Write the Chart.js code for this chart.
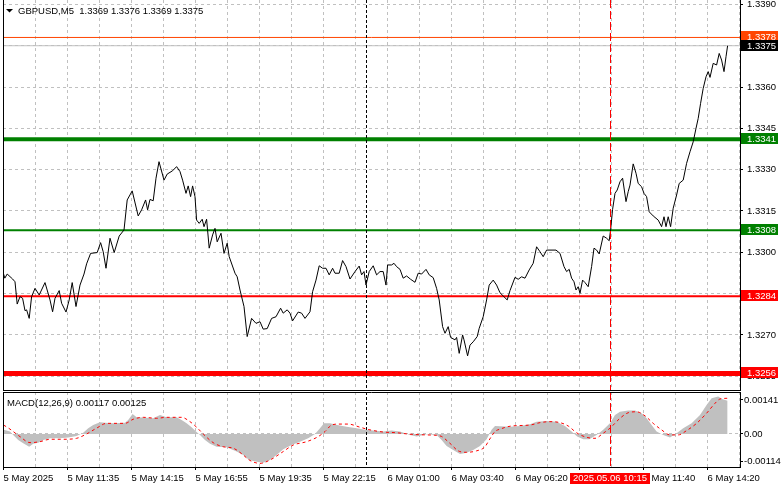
<!DOCTYPE html>
<html>
<head>
<meta charset="utf-8">
<script src="https://cdn.jsdelivr.net/npm/chart.js@4.4.1/dist/chart.umd.min.js"></script>
<style>
    body { margin: 0; background: #fff; }
    #wrap { position: relative; width: 781px; height: 489px; overflow: hidden; background: #fff; }
    canvas { position: absolute; left: 0; }
    #priceChart { top: 0; }
    #macdChart { top: 391px; }
</style>
</head>
<body>
<div id="wrap">
    <canvas id="priceChart" width="781" height="391"></canvas>
    <canvas id="macdChart" width="781" height="98"></canvas>
</div>
<script>
const FONT = "'Liberation Sans', Arial, sans-serif";
const FONT_SIZE = 9.5;

// --- DATOS (x = numero de barra M5 desde 5 May 08:55) ---

const priceX = [0, 0.6, 1.8, 4.5, 5.7, 6.8, 8.2, 9.5, 10.7, 11.5,
    12.8, 14, 15.7, 17.8, 20.7, 23.2, 24.5, 25.7, 27.8, 29,
    31.2, 32.8, 34.3, 36.2, 38.2, 40.2, 41.5, 43.5, 46.8, 48.5,
    49.8, 51.2, 53.2, 55.3, 57.8, 60.2, 61.8, 64.3, 67.3, 69,
    71, 72, 73.2, 74.8, 76.2, 77.7, 80.2, 81.8, 84.5, 86.5,
    88.2, 89.5, 91.2, 92.3, 93.5, 94.5, 95.7, 96.5, 97.8, 99.3,
    100.2, 101.5, 102.8, 104.5, 105.7, 106.8, 108.7, 110.2, 111.8, 112.8,
    115.7, 116.8, 118.2, 120.2, 121.8, 124, 126.2, 128.2, 129.8, 131.8,
    134, 136.2, 138.5, 139.8, 141.8, 143.2, 144.5, 147.3, 149, 150.7,
    153.2, 154.5, 156.2, 157.8, 159.5, 161.2, 162.8, 164.5, 165.7, 167.8,
    169.5, 171.2, 173.2, 175.7, 177.8, 179, 180.2, 181.2, 182.8, 184.8,
    186.5, 188.2, 189.8, 191.2, 192, 194, 195.2, 196.5, 198.2, 199.8,
    201.5, 203.5, 205.7, 207.3, 209, 211.2, 212.8, 214.8, 216.5, 217.8,
    219.5, 220.7, 222.3, 223.5, 225.7, 226.5, 227.8, 229.5, 230.2, 232,
    233.2, 234.8, 236.8, 237.8, 239.8, 241.5, 242.8, 244.8, 246.5, 248.2,
    251.8, 253.2, 255.7, 257.3, 259, 260.7, 262.8, 264.8, 266.5, 268.2,
    269.8, 271.5, 276.2, 278.2, 280.2, 281.5, 282.8, 284, 285.2, 286.2,
    287.3, 288.2, 289.5, 290.7, 292.3, 294, 295.2, 296.5, 297.8, 299.8,
    301.5, 302.8, 303.5, 304.5, 305.7, 306.8, 308.2, 309.5, 311.2, 312.3,
    313.2, 314.8, 316.2, 317.3, 319, 320.2, 321.5, 322.8, 324.8, 327.3,
    329, 330.2, 331.2, 332.3, 333.5, 334.8, 336.5, 337.8, 339.8, 341.5,
    343.2, 344.8, 346.2, 347.3, 348.5, 349.8, 351.2, 352.3, 353.2, 354.8,
    356.5, 357.8, 359, 360.2, 361.2, 362];

const priceY = [1.32921, 1.32906, 1.32921, 1.32903, 1.32893, 1.32812, 1.32839, 1.32833, 1.32788, 1.32791,
    1.32760, 1.32839, 1.32869, 1.32845, 1.32890, 1.32827, 1.32784, 1.32833, 1.32861, 1.32815,
    1.32783, 1.32827, 1.32890, 1.32803, 1.32881, 1.32921, 1.32958, 1.32996, 1.32999, 1.33035,
    1.33002, 1.32942, 1.33051, 1.32999, 1.33059, 1.33081, 1.33190, 1.33223, 1.33132, 1.33154,
    1.33190, 1.33154, 1.33192, 1.33187, 1.33269, 1.33329, 1.33262, 1.33284, 1.33296, 1.33311,
    1.33293, 1.33262, 1.33214, 1.33241, 1.33202, 1.33241, 1.33202, 1.33117, 1.33105, 1.33120,
    1.33093, 1.33120, 1.33015, 1.33063, 1.33087, 1.33038, 1.33069, 1.32996, 1.33033, 1.32984,
    1.32924, 1.32911, 1.32863, 1.32803, 1.32694, 1.32760, 1.32742, 1.32748, 1.32721, 1.32723,
    1.32760, 1.32766, 1.32797, 1.32779, 1.32791, 1.32779, 1.32751, 1.32783, 1.32779, 1.32760,
    1.32784, 1.32857, 1.32899, 1.32951, 1.32942, 1.32942, 1.32918, 1.32942, 1.32924, 1.32924,
    1.32970, 1.32948, 1.32903, 1.32930, 1.32950, 1.32918, 1.32930, 1.32881, 1.32930, 1.32951,
    1.32918, 1.32930, 1.32930, 1.32881, 1.32954, 1.32954, 1.32960, 1.32948, 1.32938, 1.32906,
    1.32914, 1.32902, 1.32891, 1.32924, 1.32921, 1.32938, 1.32918, 1.32908, 1.32869, 1.32827,
    1.32730, 1.32706, 1.32730, 1.32691, 1.32682, 1.32691, 1.32633, 1.32700, 1.32682, 1.32624,
    1.32663, 1.32675, 1.32694, 1.32724, 1.32766, 1.32827, 1.32881, 1.32899, 1.32881, 1.32853,
    1.32827, 1.32861, 1.32909, 1.32902, 1.32911, 1.32906, 1.32936, 1.32960, 1.33020, 1.33002,
    1.32984, 1.33008, 1.33008, 1.32996, 1.32948, 1.32930, 1.32938, 1.32906, 1.32893, 1.32863,
    1.32875, 1.32851, 1.32899, 1.32890, 1.32875, 1.32948, 1.33015, 1.33008, 1.32994, 1.33059,
    1.33051, 1.33042, 1.33081, 1.33156, 1.33214, 1.33226, 1.33256, 1.33269, 1.33184, 1.33220,
    1.33244, 1.33321, 1.33287, 1.33250, 1.33238, 1.33214, 1.33202, 1.33147, 1.33132, 1.33117,
    1.33093, 1.33129, 1.33093, 1.33129, 1.33093, 1.33160, 1.33208, 1.33250, 1.33262, 1.33323,
    1.33365, 1.33401, 1.33450, 1.33486, 1.33541, 1.33595, 1.33637, 1.33656, 1.33635, 1.33686,
    1.33680, 1.33722, 1.33698, 1.33656, 1.33710, 1.33750];

const histX = [0, 3.2, 4.8, 7.3, 9.8, 12.8, 14.8, 17.3, 19.8, 23.2,
    28.2, 32.3, 36.5, 39.8, 42.3, 44.8, 48.2, 50.7, 54.8, 60.7,
    62.3, 64.5, 66.5, 69.8, 74.8, 78.2, 81.5, 86.5, 89, 91.5,
    94, 96.2, 98.2, 100.7, 103.2, 106.5, 111.5, 116.5, 119.8, 122.8,
    126.5, 129.8, 133.2, 136.5, 139.8, 144, 148.2, 152.3, 155.7, 158.2,
    160.2, 163.2, 166.8, 171.5, 176.5, 180.7, 184.8, 189.8, 194, 198.2,
    203.2, 206.5, 211.5, 216.5, 219, 221.5, 224.8, 228.2, 231.5, 234.8,
    238.2, 241.5, 244, 245.7, 253.2, 258.2, 263.2, 266.5, 271.5, 276.5,
    280.7, 284, 286.8, 289.8, 292.8, 296.5, 299.8, 303.2, 305.7, 308.2,
    312.3, 315.7, 319, 321.5, 324, 326.5, 329.8, 333.2, 336.5, 339.8,
    344, 348.2, 351.5, 354, 357.3, 359.5, 362];

const histY = [0.00017, 0.0001, -0.00004, -0.00025, -0.00039, -0.00053, -0.00041, -0.00036, -0.00025, -0.00018,
    -0.00018, -0.00015, -0.00008, 0.00005, 0.00024, 0.00037, 0.00049, 0.00047, 0.00044, 0.00047,
    0.00058, 0.00083, 0.00069, 0.00068, 0.00065, 0.00079, 0.00069, 0.00069, 0.00058, 0.00044,
    0.00028, 0.0001, -0.00004, -0.00025, -0.00041, -0.00053, -0.00055, -0.00073, -0.00087, -0.00108,
    -0.00115, -0.00119, -0.00108, -0.00087, -0.00063, -0.00046, -0.00032, -0.00018, 0, 0.00024,
    0.00044, 0.00044, 0.00037, 0.0003, 0.00024, 0.00017, 0.00014, 0.0001, 0.00014, 0.0001,
    -0.00004, -0.00011, -0.00001, -0.00004, -0.00025, -0.0005, -0.00066, -0.00083, -0.00078, -0.00066,
    -0.0005, -0.00022, 0.00017, 0.00033, 0.0003, 0.00033, 0.0004, 0.00051, 0.00054, 0.00051,
    0.00033, 0.0001, -0.00011, -0.00022, -0.00022, -0.00004, 0.00017, 0.00044, 0.00079, 0.00092,
    0.00097, 0.00097, 0.00086, 0.00065, 0.00037, 0.0001, -0.00004, -0.00015, 0.00003, 0.00024,
    0.00044, 0.00079, 0.0012, 0.00148, 0.00155, 0.00144, 0.00138];

const signalX = [0, 3.2, 8.2, 13.2, 18.2, 23.2, 29.8, 36.5, 41.5, 46.5,
    51.5, 60.7, 64.8, 69.8, 76.5, 81.5, 89, 93.2, 96.5, 99.8,
    104.8, 109.8, 114.8, 119.8, 122.8, 128.2, 133.2, 139.8, 144.8, 151.5,
    157.3, 160.7, 164, 167.3, 172.3, 178.2, 183.2, 189.8, 196.5, 203.2,
    211.5, 218.2, 223.2, 227.3, 231.5, 236.5, 240.7, 242.8, 245.7, 248.2,
    254, 263.2, 268.2, 273.2, 278.2, 282.3, 286.5, 291.5, 295.7, 299.8,
    303.2, 308.2, 312.3, 316.5, 320.7, 324.8, 329, 333.2, 337.3, 341.5,
    346.5, 351.5, 355.7, 358.2, 362];

const signalY = [0.00037, 0.0002, -0.00011, -0.00036, -0.00032, -0.00022, -0.00022, -0.00018, 0, 0.00024,
    0.00044, 0.00044, 0.00061, 0.00069, 0.00065, 0.00069, 0.00069, 0.00051, 0.00028, 0,
    -0.00036, -0.00053, -0.00059, -0.00087, -0.00108, -0.00122, -0.00108, -0.00073, -0.00046, -0.00032,
    -0.00011, 0.0001, 0.00037, 0.00041, 0.00041, 0.00028, 0.00017, 0.00008, 0.00005, -0.00001,
    -0.00004, -0.00008, -0.00039, -0.0007, -0.00076, -0.0007, -0.00053, -0.00025, 0.0001, 0.0002,
    0.00033, 0.00037, 0.00047, 0.00051, 0.00047, 0.00033, 0.00005, -0.00014, -0.00018, 0.00003,
    0.00024, 0.00065, 0.00088, 0.00092, 0.00075, 0.00044, 0.00017, -0.00004, -0.00004, 0.00014,
    0.00044, 0.00086, 0.00127, 0.00145, 0.00148];

const priceTicks = [1.3390, 1.3375, 1.3360, 1.3345, 1.3330, 1.3315, 1.3300, 1.3285, 1.3270, 1.3255];
const macdTicks = [0.00141, 0, -0.00114];
const macdTickLabels = ['0.00141', '0.00', '-0.00114'];
const gridBars = [0, 16, 32, 48, 64, 80, 96, 112, 128, 144, 160, 176, 192, 208, 224, 240, 256, 272, 288, 304, 320, 336, 352, 368];
const timeLabels = ['5 May 2025', '5 May 11:35', '5 May 14:15', '5 May 16:55', '5 May 19:35', '5 May 22:15',
    '6 May 01:00', '6 May 03:40', '6 May 06:20', '6 May 09:00', '6 May 11:40', '6 May 14:20'];

const levelValues = [1.3341, 1.3308, 1.3284, 1.3256];
const askPrice = 1.3378;
const bidPrice = 1.3375;
const dayBreakBar = 181;
const cursorBar = 303;
const cursorLabel = '2025.05.06 10:15';
const titleText = 'GBPUSD,M5  1.3369 1.3376 1.3369 1.3375';
const macdText = 'MACD(12,26,9) 0.00117 0.00125';

// --- ESTILOS ---
const X_MIN = -0.3, X_MAX = 368.2;
const GRID = '#c0c0c0';
const levelStyle = [
    { color: '#008000', width: 4 },
    { color: '#008000', width: 2 },
    { color: '#ff0000', width: 2 },
    { color: '#ff0000', width: 5 }
];

function pts(xs, ys) {
    return xs.map((x, i) => ({ x: x, y: ys[i] }));
}

function flatLine(v) {
    return [{ x: X_MIN, y: v }, { x: X_MAX, y: v }];
}

function drawVLines(chart) {
    const { ctx, chartArea: a, scales } = chart;
    const lines = [
        { bar: dayBreakBar, color: '#000', dash: [3, 2] },
        { bar: cursorBar, color: '#ff0000', dash: [8, 3] }
    ];
    ctx.save();
    lines.forEach(l => {
        const x = Math.round(scales.x.getPixelForValue(l.bar)) + 0.5;
        ctx.strokeStyle = l.color;
        ctx.lineWidth = 1;
        ctx.setLineDash(l.dash);
        ctx.beginPath();
        ctx.moveTo(x, a.top);
        ctx.lineTo(x, a.bottom);
        ctx.stroke();
    });
    ctx.restore();
}

function drawFrame(chart, withTop) {
    const { ctx, chartArea: a } = chart;
    ctx.save();
    ctx.strokeStyle = '#000';
    ctx.lineWidth = 1;
    ctx.beginPath();
    ctx.moveTo(a.left + 0.5, a.top);
    ctx.lineTo(a.left + 0.5, a.bottom);
    if (withTop) {
        ctx.moveTo(a.left, a.top + 0.5);
        ctx.lineTo(a.right, a.top + 0.5);
    }
    ctx.stroke();
    ctx.restore();
}

// --- GRAFICO DE PRECIO ---

const pricePlugin = {
    id: 'priceExtras',
    afterDatasetsDraw(chart) {
        drawVLines(chart);
    },
    afterDraw(chart) {
        const ctx = chart.ctx;
        const y = chart.scales.y;
        drawFrame(chart, false);

        ctx.save();
        // titulo
        ctx.fillStyle = '#000';
        ctx.beginPath();
        ctx.moveTo(6, 9);
        ctx.lineTo(13, 9);
        ctx.lineTo(9.5, 12.5);
        ctx.closePath();
        ctx.fill();
        ctx.font = FONT_SIZE + 'px ' + FONT;
        ctx.textBaseline = 'middle';
        ctx.textAlign = 'left';
        ctx.fillText(titleText, 18, 11);

        // etiquetas de niveles en el eje
        const boxes = [
            { v: askPrice, bg: '#ff4500' },
            { v: bidPrice, bg: '#000000' }
        ].concat(levelValues.map((v, i) => ({ v: v, bg: levelStyle[i].color })));
        boxes.forEach(b => {
            const py = Math.round(y.getPixelForValue(b.v));
            ctx.fillStyle = b.bg;
            ctx.fillRect(741, py - 6, 37, 11);
            ctx.fillStyle = '#fff';
            ctx.fillText(b.v.toFixed(4), 747, py);
        });
        ctx.restore();
    }
};

const priceDatasets = [{
    data: pts(priceX, priceY),
    borderColor: '#000',
    borderWidth: 1,
    tension: 0
}];
levelValues.forEach((v, i) => {
    priceDatasets.push({
        data: flatLine(v),
        borderColor: levelStyle[i].color,
        borderWidth: levelStyle[i].width
    });
});
priceDatasets.push({ data: flatLine(askPrice), borderColor: '#ff4500', borderWidth: 1 });
priceDatasets.push({ data: flatLine(bidPrice), borderColor: '#c0c0c0', borderWidth: 1 });

new Chart(document.getElementById('priceChart'), {
    type: 'line',
    data: { datasets: priceDatasets },
    options: {
        responsive: false,
        animation: false,
        layout: { padding: { left: 3, top: 0, right: 0, bottom: 1 } },
        elements: { point: { radius: 0 }, line: { borderCapStyle: 'butt' } },
        plugins: { legend: { display: false }, tooltip: { enabled: false } },
        scales: {
            x: {
                type: 'linear', min: X_MIN, max: X_MAX,
                afterBuildTicks: s => { s.ticks = gridBars.map(v => ({ value: v })); },
                afterFit: s => { s.height = 0; s.paddingLeft = 0; s.paddingRight = 0; },
                ticks: { display: false },
                grid: {
                    color: c => (c.tick && c.tick.value === 0) ? 'transparent' : GRID,
                    drawTicks: false
                },
                border: { display: true, color: '#000', dash: [3, 3] }
            },
            y: {
                type: 'linear', position: 'right', min: 1.3250, max: 1.33916,
                afterBuildTicks: s => { s.ticks = priceTicks.map(v => ({ value: v })); },
                afterFit: s => { s.width = 41; s.paddingTop = 0; s.paddingBottom = 0; },
                ticks: {
                    autoSkip: false, padding: 4, color: '#000',
                    font: { family: FONT, size: FONT_SIZE },
                    callback: v => v.toFixed(4)
                },
                grid: { color: GRID, tickLength: 3, tickColor: '#000', tickBorderDash: [] },
                border: { display: true, color: '#000', dash: [3, 3] }
            }
        }
    },
    plugins: [pricePlugin]
});

// --- MACD ---

const macdPlugin = {
    id: 'macdExtras',
    afterDatasetsDraw(chart) {
        drawVLines(chart);
    },
    afterDraw(chart) {
        const { ctx, chartArea: a, scales } = chart;
        drawFrame(chart, true);
        ctx.save();
        ctx.font = FONT_SIZE + 'px ' + FONT;
        ctx.textBaseline = 'middle';
        ctx.textAlign = 'left';
        ctx.fillStyle = '#000';
        ctx.fillText(macdText, 7, 12);

        // etiqueta de fecha del cursor
        const cx = Math.round(scales.x.getPixelForValue(cursorBar));
        ctx.fillStyle = '#ff0000';
        ctx.fillRect(cx - 40, a.bottom + 6, 80, 11);
        ctx.fillStyle = '#fff';
        ctx.textAlign = 'center';
        ctx.fillText(cursorLabel, cx, a.bottom + 11.5);
        ctx.restore();
    }
};

new Chart(document.getElementById('macdChart'), {
    type: 'line',
    data: {
        datasets: [{
            data: pts(signalX, signalY),
            borderColor: '#ff0000',
            borderWidth: 1,
            borderDash: [3, 3],
            tension: 0.4,
            cubicInterpolationMode: 'monotone'
        }, {
            data: pts(histX, histY),
            borderColor: 'transparent',
            borderWidth: 0,
            backgroundColor: '#c0c0c0',
            fill: 'origin',
            tension: 0
        }]
    },
    options: {
        responsive: false,
        animation: false,
        layout: { padding: { left: 3, top: 1, right: 0, bottom: 0 } },
        elements: { point: { radius: 0 } },
        plugins: { legend: { display: false }, tooltip: { enabled: false } },
        scales: {
            x: {
                type: 'linear', min: X_MIN, max: X_MAX,
                afterBuildTicks: s => { s.ticks = gridBars.map(v => ({ value: v })); },
                afterFit: s => { s.height = 22; s.paddingLeft = 0; s.paddingRight = 0; },
                ticks: {
                    autoSkip: false, maxRotation: 0, minRotation: 0, align: 'start', padding: 3,
                    color: '#000', font: { family: FONT, size: FONT_SIZE },
                    callback: v => (v % 32 === 0 ? timeLabels[v / 32] : '')
                },
                grid: {
                    color: c => (c.tick && c.tick.value === 0) ? 'transparent' : GRID,
                    tickLength: 3,
                    tickColor: c => (c.tick && c.tick.value % 32 === 0) ? '#000' : 'transparent',
                    tickBorderDash: []
                },
                border: { display: true, color: '#000', dash: [3, 3] }
            },
            y: {
                type: 'linear', position: 'right', min: -0.00137, max: 0.00174,
                afterBuildTicks: s => { s.ticks = macdTicks.map(v => ({ value: v })); },
                afterFit: s => { s.width = 41; s.paddingTop = 0; s.paddingBottom = 0; },
                ticks: {
                    autoSkip: false, padding: 1, color: '#000',
                    font: { family: FONT, size: FONT_SIZE },
                    callback: (v, i) => macdTickLabels[i]
                },
                grid: {
                    color: c => (c.tick && c.tick.value === 0) ? GRID : 'transparent',
                    tickLength: 3, tickColor: '#000', tickBorderDash: []
                },
                border: { display: true, color: '#000', dash: [3, 3] }
            }
        }
    },
    plugins: [macdPlugin]
});
</script>
</body>
</html>
